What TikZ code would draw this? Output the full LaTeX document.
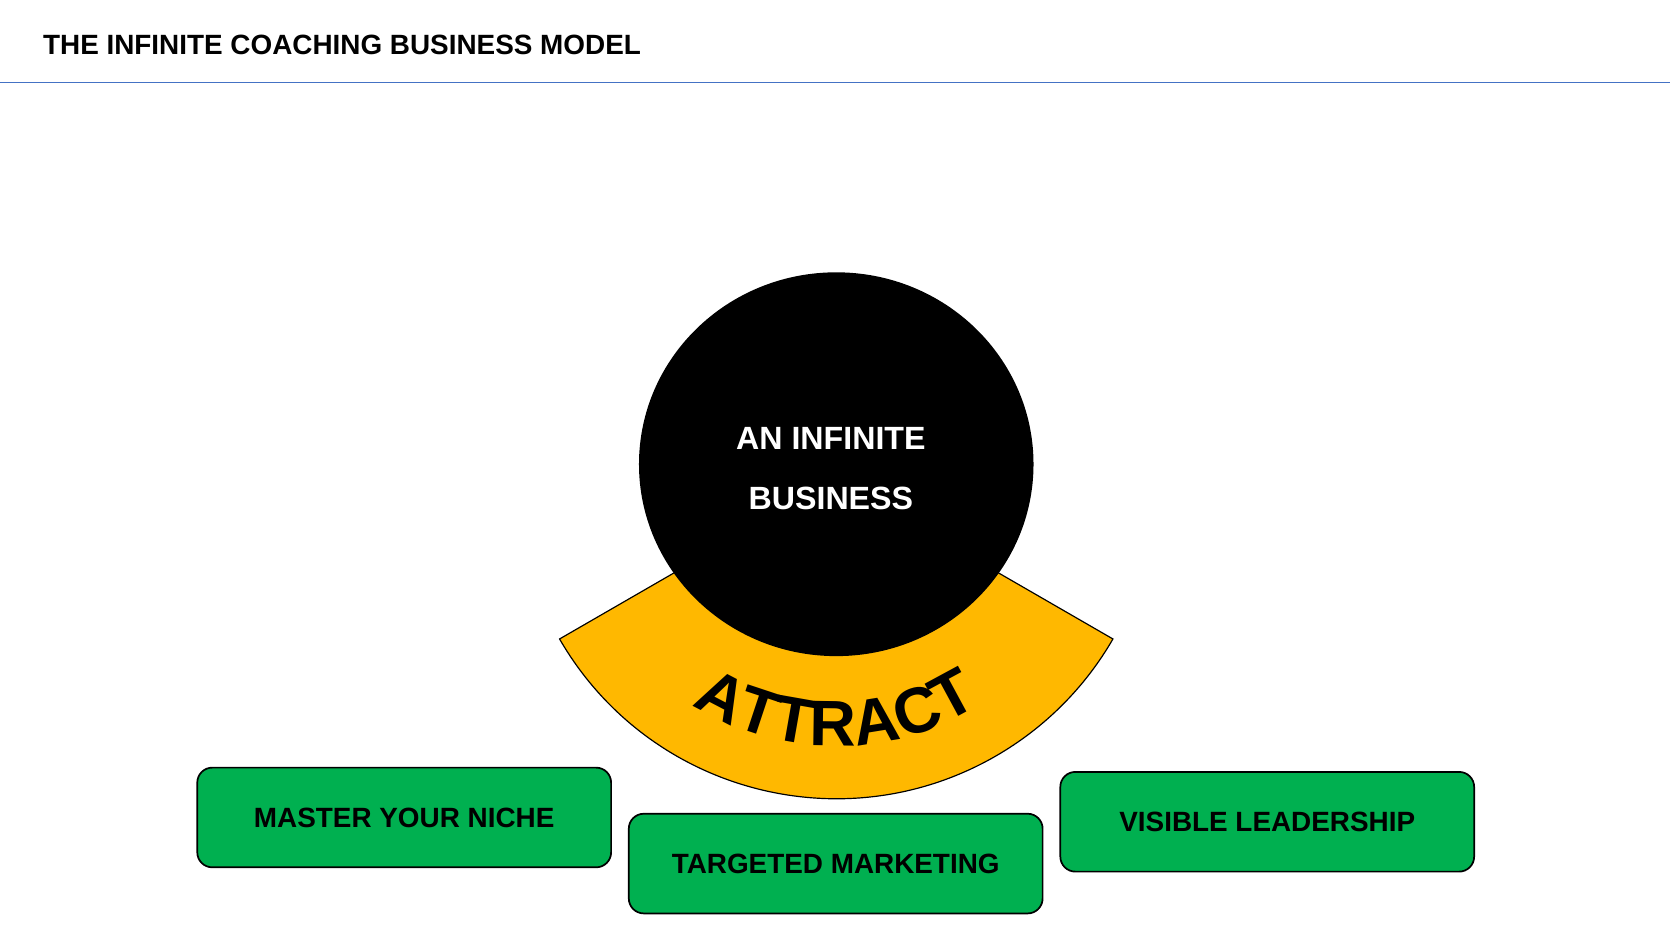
\documentclass[tikz,border=0pt]{standalone}
\usepackage{fontspec}
\setmainfont{Liberation Sans}
\usetikzlibrary{shapes.geometric,decorations.text}
\definecolor{rulecol}{HTML}{4472C4}
\definecolor{goldfill}{HTML}{FFB800}
\definecolor{boxgreen}{HTML}{00B050}
\newcommand\attfont{\fontsize{60}{64}\selectfont\bfseries}
\begin{document}
\begin{tikzpicture}[x=1pt,y=1pt,
  titletext/.style={font=\fontsize{26}{30}\selectfont\bfseries, inner sep=0pt, anchor=base west},
  core/.style={ellipse, fill=black, minimum width=368pt, minimum height=358pt, inner sep=0pt},
  coretext/.style={text=white, align=center, inner sep=0pt, font=\fontsize{30}{56}\selectfont\bfseries},
  pillar/.style={draw=black, line width=1.6pt, fill=boxgreen, rounded corners=14pt, minimum width=386pt, minimum height=93pt, inner sep=0pt, font=\fontsize{26}{30}\selectfont\bfseries},
  band/.style={fill=goldfill, draw=black, line width=1.1pt}]
\useasboundingbox (0,0) rectangle (1567,873);
\node[titletext] (title) at (40,822) {THE INFINITE COACHING BUSINESS MODEL};
\coordinate (ruleL) at (0,796);
\coordinate (ruleR) at (1558,796);
\draw[rulecol, line width=1.4pt] (ruleL) -- (ruleR);
\coordinate (hub) at (780,426);
\draw[band] ([shift={(210:298)}]hub) arc[start angle=210,end angle=330,radius=298]
  -- ([shift={(330:150)}]hub) arc[start angle=330,end angle=210,radius=150] -- cycle;
\node[core] (core) at (780,440) {};
\node[coretext] (corelabel) at (775,436) {AN INFINITE\\BUSINESS};
\path[decorate, decoration={text along path, text={|\attfont|ATTRACT}, text align=center}]
  ([shift={(210:249)}]hub) arc[start angle=210,end angle=330,radius=249];
\node[pillar] (niche) at (377,110.5) {MASTER YOUR NICHE};
\node[pillar] (market) at (779.5,67.5) {TARGETED MARKETING};
\node[pillar] (lead) at (1182,106.5) {VISIBLE LEADERSHIP};
\end{tikzpicture}
\end{document}
